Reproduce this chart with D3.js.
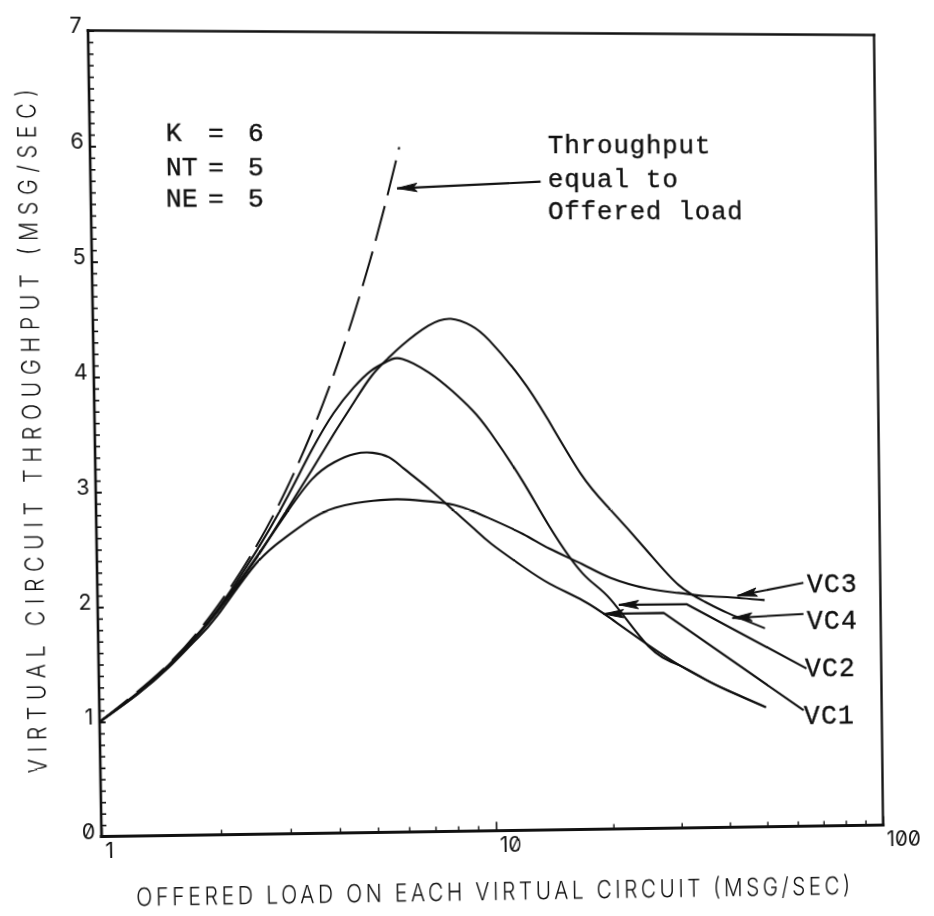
<!DOCTYPE html>
<html>
<head>
<meta charset="utf-8">
<script src="https://cdn.jsdelivr.net/npm/d3@7"></script>
<style>
  html, body { margin: 0; padding: 0; background: #fff; }
  #sheet { position: absolute; left: 0; top: 0; width: 934px; height: 916px; transform-origin: 0 0; }
  svg { display: block; }
  .plotter { font-family: Inter, "DejaVu Sans", sans-serif; font-feature-settings: "zero" 1; font-variant-numeric: slashed-zero; fill: #111; }
  .typed { font-family: "Liberation Mono", "DejaVu Sans Mono", monospace; fill: #111; }
</style>
</head>
<body>
<div id="sheet"></div>
<script>
// ---- data -------------------------------------------------------------
// offered load on each virtual circuit (msg/sec), shared by every curve
const load = [1, 1.25, 1.5, 1.75, 2, 2.5, 3, 3.5, 4, 4.5, 5, 5.5, 6, 7, 8, 9, 10, 12, 14, 17, 20, 25, 30, 35, 40, 50];
// virtual circuit throughput (msg/sec)
const vc1 = [1, 1.25, 1.49, 1.73, 1.96, 2.41, 2.80, 3.10, 3.25, 3.32, 3.33, 3.29, 3.19, 3.00, 2.82, 2.66, 2.52, 2.32, 2.17, 2.02, 1.86, 1.62, 1.44, 1.31, 1.21, 1.06];
const vc2 = [1, 1.25, 1.49, 1.73, 1.97, 2.46, 2.92, 3.35, 3.68, 3.90, 4.05, 4.13, 4.15, 4.03, 3.87, 3.70, 3.50, 3.08, 2.68, 2.26, 2.03, 1.61, 1.44, 1.31, 1.21, 1.06];
const vc3 = [1, 1.24, 1.47, 1.70, 1.92, 2.36, 2.60, 2.76, 2.85, 2.89, 2.91, 2.92, 2.92, 2.90, 2.87, 2.81, 2.74, 2.61, 2.48, 2.34, 2.22, 2.12, 2.08, 2.05, 2.04, 2.01];
const vc4 = [1, 1.24, 1.48, 1.72, 1.95, 2.40, 2.82, 3.18, 3.50, 3.77, 4.00, 4.15, 4.27, 4.44, 4.50, 4.44, 4.31, 3.98, 3.62, 3.13, 2.83, 2.45, 2.15, 2.00, 1.90, 1.76];
// reference line: throughput equal to offered load
const equalLoad = [1, 1.5, 2, 2.5, 3, 3.5, 4, 4.5, 5, 5.5, 6];
const equalThroughput = [1, 1.5, 2, 2.5, 3, 3.5, 4, 4.5, 5, 5.5, 6];

const xTickValues = [1, 10, 100];
const yTickValues = [0, 1, 2, 3, 4, 5, 6, 7];
const seriesNames = ["VC1", "VC2", "VC3", "VC4"];

// leader lines from each label to its curve: [load, throughput] pairs, label end first
const leaderVC3 = [[63.1, 2.16], [42.5, 2.05]];
const leaderVC4 = [[63.0, 1.884], [41.2, 1.854]];
const leaderVC2 = [[63.9, 1.40], [31.4, 1.98], [21.0, 1.98]];
const leaderVC1 = [[62.6, 1.03], [27.4, 1.904], [19.2, 1.90]];
const leaderEqual = [[13.7, 5.70], [5.9, 5.64]];

// ---- geometry ---------------------------------------------------------
const W = 934, H = 916;
const frame = { left: 95, right: 878.5, top: 32.5, bottom: 830.5 };
// where the plotting area's corners landed on the (slightly skewed) sheet
const sheetCorners = [[88, 30.5], [874, 35], [101.5, 836.5], [883, 825]];
const drawCorners = [[frame.left, frame.top], [frame.right, frame.top], [frame.left, frame.bottom], [frame.right, frame.bottom]];

function solveHomography(src, dst) {
  const A = [], b = [];
  for (let i = 0; i < 4; i++) {
    const [x, y] = src[i], [X, Y] = dst[i];
    A.push([x, y, 1, 0, 0, 0, -x * X, -y * X]); b.push(X);
    A.push([0, 0, 0, x, y, 1, -x * Y, -y * Y]); b.push(Y);
  }
  const n = 8;
  for (let c = 0; c < n; c++) {
    let p = c;
    for (let r = c + 1; r < n; r++) if (Math.abs(A[r][c]) > Math.abs(A[p][c])) p = r;
    [A[c], A[p]] = [A[p], A[c]]; [b[c], b[p]] = [b[p], b[c]];
    for (let r = 0; r < n; r++) {
      if (r === c) continue;
      const f = A[r][c] / A[c][c];
      for (let k = c; k < n; k++) A[r][k] -= f * A[c][k];
      b[r] -= f * b[c];
    }
  }
  return b.map((v, i) => v / A[i][i]);
}
function project(h, [x, y]) {
  const w = h[6] * x + h[7] * y + 1;
  return [(h[0] * x + h[1] * y + h[2]) / w, (h[3] * x + h[4] * y + h[5]) / w];
}
const toSheet = solveHomography(drawCorners, sheetCorners);
const toDraw = solveHomography(sheetCorners, drawCorners);
const at = p => project(toDraw, p);

const h = toSheet;
d3.select("#sheet").style("transform",
  `matrix3d(${h[0]},${h[3]},0,${h[6]},${h[1]},${h[4]},0,${h[7]},0,0,1,0,${h[2]},${h[5]},0,1)`);

const svg = d3.select("#sheet").append("svg").attr("width", W).attr("height", H);

const x = d3.scaleLog().domain([1, 100]).range([frame.left, frame.right]);
const y = d3.scaleLinear().domain([0, 7]).range([frame.bottom, frame.top]);
const ink = "#111";

// ---- axes -------------------------------------------------------------
const yMinor = d3.range(0, 70.5, 1).map(d => d / 10);
svg.append("g").attr("transform", `translate(${frame.left},0)`)
  .call(d3.axisLeft(y).tickValues(yMinor).tickSize(-5).tickSizeOuter(0).tickFormat(""))
  .call(g => g.select(".domain").remove())
  .call(g => g.selectAll("line").attr("stroke", ink).attr("stroke-width", 1.6));

svg.append("g").attr("transform", `translate(${frame.left},0)`)
  .call(d3.axisLeft(y).tickValues(yTickValues).tickSize(-6).tickPadding(6).tickFormat(d3.format("d")))
  .call(g => g.select(".domain").remove())
  .call(g => g.selectAll("line").attr("stroke", ink).attr("stroke-width", 1.8))
  .call(g => g.selectAll("text").attr("class", "plotter").attr("font-size", 21)
    .attr("dy", "0.1em").attr("fill", ink));

const xMinor = x.ticks().filter(d => !xTickValues.includes(d));
svg.append("g").attr("transform", `translate(0,${frame.bottom})`)
  .call(d3.axisBottom(x).tickValues(xMinor).tickSize(-5).tickSizeOuter(0).tickFormat(""))
  .call(g => g.select(".domain").remove())
  .call(g => g.selectAll("line").attr("stroke", ink).attr("stroke-width", 1.4));

svg.append("g").attr("transform", `translate(0,${frame.bottom})`)
  .call(d3.axisBottom(x).tickValues(xTickValues).tickSize(-9).tickPadding(7).tickFormat(d3.format("d")))
  .call(g => g.select(".domain").remove())
  .call(g => g.selectAll("line").attr("stroke", ink).attr("stroke-width", 1.6))
  .call(g => g.selectAll("text").attr("class", "plotter").attr("font-size", 21)
    .attr("text-anchor", "start").attr("x", 3).attr("fill", ink));

// plotting frame
const frameG = svg.append("g").attr("stroke", ink).attr("fill", "none").attr("stroke-linecap", "square");
frameG.append("line").attr("x1", frame.left).attr("x2", frame.left).attr("y1", frame.top).attr("y2", frame.bottom).attr("stroke-width", 2.6);
frameG.append("line").attr("x1", frame.left).attr("x2", frame.right).attr("y1", frame.bottom).attr("y2", frame.bottom).attr("stroke-width", 3.2);
frameG.append("line").attr("x1", frame.left).attr("x2", frame.right).attr("y1", frame.top).attr("y2", frame.top).attr("stroke-width", 2.6);
frameG.append("line").attr("x1", frame.right).attr("x2", frame.right).attr("y1", frame.top).attr("y2", frame.bottom).attr("stroke-width", 2.4);

// ---- curves -----------------------------------------------------------
const line = d3.line().x(d => x(d[0])).y(d => y(d[1])).curve(d3.curveNatural);
const curves = [vc1, vc2, vc3, vc4];
svg.append("g").selectAll("path").data(curves).join("path")
  .attr("class", (d, i) => seriesNames[i])
  .attr("d", vals => line(load.map((l, i) => [l, vals[i]])))
  .attr("fill", "none").attr("stroke", ink).attr("stroke-width", 2.1)
  .attr("stroke-linejoin", "round");

svg.append("path")
  .attr("d", line(equalLoad.map((l, i) => [l, equalThroughput[i]])))
  .attr("fill", "none").attr("stroke", ink).attr("stroke-width", 2)
  .attr("stroke-dasharray", "36 11");

// ---- leaders and arrows ----------------------------------------------
const straight = d3.line().x(d => x(d[0])).y(d => y(d[1]));
function leader(pts, width) {
  svg.append("path").attr("d", straight(pts)).attr("fill", "none")
    .attr("stroke", ink).attr("stroke-width", width).attr("stroke-linejoin", "round");
  const a = pts[pts.length - 2], b = pts[pts.length - 1];
  const tx = x(b[0]), ty = y(b[1]), fx = x(a[0]), fy = y(a[1]);
  const len = Math.hypot(tx - fx, ty - fy), ux = (tx - fx) / len, uy = (ty - fy) / len;
  const L = 20, hw = 4.2;
  const bx = tx - ux * L, by = ty - uy * L;
  svg.append("path")
    .attr("d", `M${tx},${ty}L${bx - uy * hw},${by + ux * hw}L${bx + ux * 4},${by + uy * 4}L${bx + uy * hw},${by - ux * hw}Z`)
    .attr("fill", ink).attr("stroke", ink).attr("stroke-width", 1);
}
leader(leaderVC3, 2);
leader(leaderVC4, 2);
leader(leaderVC2, 2.2);
leader(leaderVC1, 2.2);
leader(leaderEqual, 2.2);

// ---- text -------------------------------------------------------------
function typed(str, pos, size, anchor, spacing) {
  const [px, py] = at(pos);
  return svg.append("text").attr("class", "typed").attr("x", px).attr("y", py)
    .attr("font-size", size).attr("text-anchor", anchor || "start")
    .attr("letter-spacing", spacing || 0).attr("stroke", ink).attr("stroke-width", 0.35)
    .text(str);
}
typed("Throughput", [548, 153], 26, "start", 0.8);
typed("equal to", [548, 187], 26, "start", 0.8);
typed("Offered load", [548, 219], 26, "start", 0.8);

const params = [["K", "6", 141], ["NT", "5", 175], ["NE", "5", 207]];
params.forEach(([name, val, base]) => {
  typed(name, [166, base], 26, "start", 0);
  typed("=", [216, base], 26, "middle", 0);
  typed(val, [256, base], 26, "middle", 0);
});

typed("VC3", [807, 592], 27, "start", 1.1);
typed("VC4", [807, 629], 27, "start", 1.1);
typed("VC2", [805, 677], 27, "start", 1.1);
typed("VC1", [804, 724], 27, "start", 1.1);

// axis titles (plotter lettering: tall, narrow, widely spaced)
{
  const [px, py] = at([496.5, 900]);
  svg.append("text").attr("class", "plotter")
    .attr("transform", `translate(${px},${py}) scale(1,1.2)`)
    .attr("text-anchor", "middle").attr("font-size", 21).attr("font-weight", 300)
    .attr("textLength", 716).attr("lengthAdjust", "spacing")
    .text("OFFERED LOAD ON EACH VIRTUAL CIRCUIT (MSG/SEC)");
}
{
  const [px, py] = at([41, 432]);
  svg.append("text").attr("class", "plotter")
    .attr("transform", `translate(${px},${py}) rotate(-90) scale(1,1.2)`)
    .attr("text-anchor", "middle").attr("font-size", 21).attr("font-weight", 300)
    .attr("textLength", 676).attr("lengthAdjust", "spacing")
    .text("VIRTUAL CIRCUIT THROUGHPUT (MSG/SEC)");
}
</script>
</body>
</html>
